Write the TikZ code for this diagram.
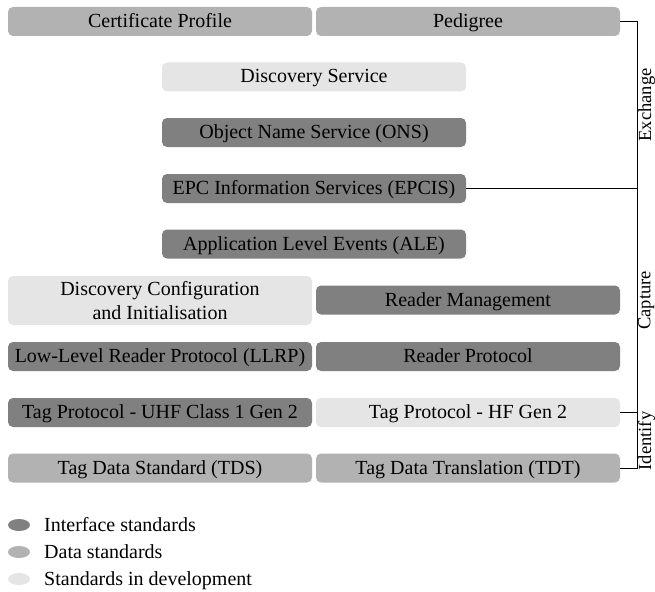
\documentclass[tikz,border=0pt]{standalone}
\usepackage{fontspec}
\setmainfont{Liberation Serif}
\usetikzlibrary{calc,shapes.geometric}
\definecolor{cdark}{gray}{0.50}
\definecolor{cmed}{gray}{0.70}
\definecolor{clight}{gray}{0.90}
\tikzset{
  txt/.style={font=\fontsize{20}{24}\selectfont},
  one/.style={text height=15pt, text depth=3pt},
  box/.style={txt, rounded corners=5pt, minimum width=304pt, minimum height=29pt, inner sep=0pt, align=center, one},
  ifc/.style={box, fill=cdark},
  dat/.style={box, fill=cmed},
  dev/.style={box, fill=clight},
  devtwo/.style={txt, rounded corners=5pt, minimum width=304pt, minimum height=49pt, inner sep=0pt, align=center, fill=clight},
  link/.style={draw=black, line width=0.8pt},
  grp/.style={rotate=90, anchor=north, inner sep=0pt, font=\fontsize{18.5}{22}\selectfont},
  leg/.style={txt, one, anchor=west, inner sep=0pt},
  dot/.style={ellipse, minimum width=22pt, minimum height=12pt, inner sep=0pt}
}
\begin{document}
\begin{tikzpicture}[x=1pt,y=-1pt]
\useasboundingbox (0,0) rectangle (655,591);
% rows
\node[dat] (cert) at (160,21.5) {Certificate Profile};
\node[dat] (ped) at (468,21.5) {Pedigree};
\node[dev] (disc) at (314,77) {Discovery Service};
\node[ifc] (ons) at (314,132.5) {Object Name Service (ONS)};
\node[ifc] (epcis) at (314,188.5) {EPC Information Services (EPCIS)};
\node[ifc] (ale) at (314,244) {Application Level Events (ALE)};
\node[devtwo] (dci) at (160,300.5) {Discovery Configuration\\and Initialisation};
\node[ifc] (rm) at (468,300) {Reader Management};
\node[ifc] (llrp) at (160,356.5) {Low-Level Reader Protocol (LLRP)};
\node[ifc] (rp) at (468,356.5) {Reader Protocol};
\node[ifc] (uhf) at (160,412.5) {Tag Protocol - UHF Class 1 Gen 2};
\node[dev] (hf) at (468,412.5) {Tag Protocol - HF Gen 2};
\node[dat] (tds) at (160,468) {Tag Data Standard (TDS)};
\node[dat] (tdt) at (468,468) {Tag Data Translation (TDT)};
% bracket
\coordinate (bt) at (637.5,21.5);
\coordinate (bb) at (637.5,468);
\draw[link] (ped.east) -- (bt) -- (bb) -- (tdt.east);
\draw[link] (epcis.east) -- (epcis.east -| bt);
\draw[link] (hf.east) -- (hf.east -| bt);
\node[grp] (lex) at (638,105) {Exchange};
\node[grp] (lca) at (638,300.5) {Capture};
\node[grp] (lid) at (638,441) {Identify};
% legend
\node[dot, fill=cdark] (d1) at (19,525) {};
\node[leg] (t1) at (44,525) {Interface standards};
\node[dot, fill=cmed] (d2) at (19,552) {};
\node[leg] (t2) at (44,552) {Data standards};
\node[dot, fill=clight] (d3) at (19,579) {};
\node[leg] (t3) at (44,579) {Standards in development};
\end{tikzpicture}
\end{document}
